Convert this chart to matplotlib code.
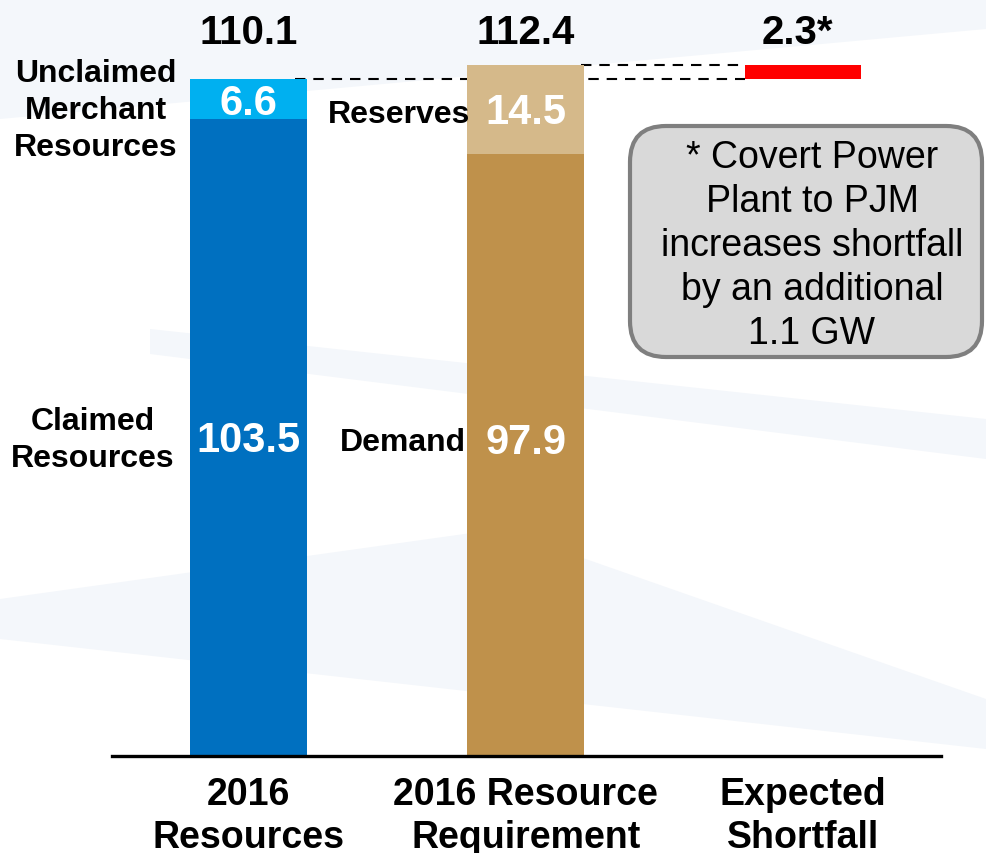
import matplotlib
matplotlib.use("Agg")
import matplotlib.pyplot as plt
from matplotlib.patches import FancyBboxPatch, Polygon
from matplotlib.transforms import IdentityTransform

plt.rcParams['font.family'] = ['Liberation Sans', 'DejaVu Sans']

categories = ["2016\nResources", "2016 Resource\nRequirement", "Expected\nShortfall"]
claimed = 103.5
unclaimed = 6.6
demand = 97.9
reserves = 14.5
total_resources = 110.1
total_requirement = 112.4
shortfall = 2.3
total_labels = ["110.1", "112.4", "2.3*"]

W, H = 986, 854
fig = plt.figure(figsize=(W / 100, H / 100), dpi=100)
fig.patch.set_facecolor("white")

# faint background shapes in a background axes
bgax = fig.add_axes([0, 0, 1, 1], zorder=-10)
bgax.set_xlim(0, W)
bgax.set_ylim(H, 0)
bgax.axis("off")
bg = [
    [(0, 0), (986, 0), (986, 30), (0, 120)],
    [(150, 330), (986, 420), (986, 460), (150, 355)],
    [(0, 600), (500, 530), (986, 700), (986, 750), (0, 640)],
]
for pts in bg:
    bgax.add_patch(Polygon(pts, closed=True, facecolor="#f4f7fb", edgecolor="none"))

left_px, right_px, base_px = 112, 941, 757
ax = fig.add_axes([left_px / W, (H - base_px) / H, (right_px - left_px) / W, base_px / H])
ax.set_facecolor("none")

px_per_unit = 6.15
ax.set_ylim(0, base_px / px_per_unit)
ax.set_xlim(-0.492, 2.498)

x = [0, 1, 2]
w = 0.42
ax.bar(x[0], claimed, width=w, color="#0070C0", zorder=2)
ax.bar(x[0], unclaimed, bottom=claimed, width=w, color="#00B0F0", zorder=2)
ax.bar(x[1], demand, width=w, color="#BF914B", zorder=2)
ax.bar(x[1], reserves, bottom=demand, width=w, color="#D5B98A", zorder=2)
ax.bar(x[2], shortfall, bottom=total_resources, width=w, color="#FF0000", zorder=2)

# dashed connectors
ax.plot([0.168, 1.791], [total_resources, total_resources], color="black",
        lw=1.5, dashes=(5, 3.8), zorder=1)
ax.plot([1.2, 1.791], [total_requirement, total_requirement], color="black",
        lw=1.5, dashes=(5, 3.8), zorder=1)

# totals
for xi, lab in zip(x, total_labels):
    ax.text(xi - (0.02 if xi == 2 else 0), 117.7, lab, ha="center", va="center",
            fontsize=29, fontweight="bold", color="black", clip_on=False)

# inner values
ax.text(x[0], 106.2, f"{unclaimed}", ha="center", va="center", fontsize=30,
        fontweight="bold", color="white", zorder=3)
ax.text(x[0], 51.4, f"{claimed}", ha="center", va="center", fontsize=30,
        fontweight="bold", color="white", zorder=3)
ax.text(x[1], 104.7, f"{reserves}", ha="center", va="center", fontsize=30,
        fontweight="bold", color="white", zorder=3)
ax.text(x[1], 51.1, f"{demand}", ha="center", va="center", fontsize=30,
        fontweight="bold", color="white", zorder=3)

# side labels
ax.text(-0.55, 105.0, "Unclaimed\nMerchant\nResources", ha="center", va="center",
        fontsize=23, fontweight="bold", linespacing=1.3, clip_on=False)
ax.text(-0.56, 51.4, "Claimed\nResources", ha="center", va="center",
        fontsize=23, fontweight="bold", linespacing=1.3, clip_on=False)
ax.text(0.799, 104.4, "Reserves", ha="right", va="center", fontsize=23,
        fontweight="bold", zorder=4)
ax.text(0.785, 51.0, "Demand", ha="right", va="center", fontsize=23,
        fontweight="bold", zorder=4)

# axes styling
for s in ["top", "right", "left"]:
    ax.spines[s].set_visible(False)
ax.spines["bottom"].set_linewidth(2.4)
ax.spines["bottom"].set_zorder(5)
ax.set_yticks([])
ax.set_xticks(x)
ax.set_xticklabels(categories, fontsize=27, fontweight="bold", linespacing=1.24)
ax.tick_params(axis="x", length=0, pad=14.5)

# note box
box = FancyBboxPatch((630, H - 358), 352, 231, boxstyle="round,pad=0,rounding_size=36",
                     transform=IdentityTransform(), facecolor="#D9D9D9",
                     edgecolor="#7F7F7F", linewidth=3, zorder=6)
fig.patches.append(box)
fig.text(812 / W, (H - 246) / H,
         "* Covert Power\nPlant to PJM\nincreases shortfall\nby an additional\n1.1 GW",
         ha="center", va="center", fontsize=27, linespacing=1.29, color="black", zorder=7)

fig.savefig("out.png", dpi=100, facecolor=fig.get_facecolor())
